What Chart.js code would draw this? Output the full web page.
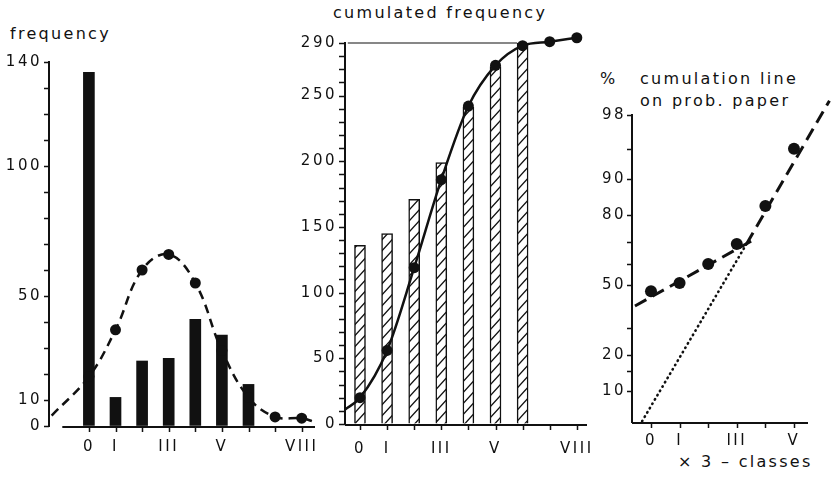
<!DOCTYPE html>
<html>
<head>
<meta charset="utf-8">
<script src="https://cdn.jsdelivr.net/npm/chart.js@4.4.1/dist/chart.umd.min.js"></script>
<style>
  body { margin: 0; background: #fff; width: 831px; height: 485px; overflow: hidden; position: relative;
         font-family: "DejaVu Sans", sans-serif; color: #111; }
  canvas { position: absolute; top: 0; }
  .lbl { position: absolute; font-size: 16px; line-height: 16px; letter-spacing: 2.3px; white-space: nowrap; }
</style>
</head>
<body>
<div class="lbl" style="left:10px;top:26px">frequency</div>
<div class="lbl" style="left:333px;top:5px">cumulated frequency</div>
<div class="lbl" style="left:600px;top:71px">%</div>
<div class="lbl" style="left:640px;top:71px">cumulation line</div>
<div class="lbl" style="left:640px;top:93px">on prob. paper</div>
<div class="lbl" style="left:678px;top:454px">× 3 – classes</div>

<canvas id="freq" width="335" height="485" style="left:0"></canvas>
<canvas id="cum" width="320" height="485" style="left:290px"></canvas>
<canvas id="prob" width="241" height="485" style="left:590px"></canvas>

<script>
// classes on the x axis, only some get a label
const classLabels = ['0', 'I', 'II', 'III', 'IV', 'V', 'VI', 'VII', 'VIII'];
const shownClasses = [0, 1, 3, 5, 8];

// left panel: frequency bars + fitted curve
const freqX = [0, 1, 2, 3, 4, 5, 6];
const freqBars = [136, 11, 25, 26, 41, 35, 16];
const fitX = [-1.4, 0, 1, 2, 3, 4, 5, 6, 7, 8, 8.5];
const fitFreq = [4, 19, 37, 60, 66, 55, 29, 11, 3.5, 3, 1.5];
const fitDots = [0, 5.5, 5.5, 5.5, 5.5, 5.5, 5.5, 5.5, 5.5, 5.5, 0];
const freqTicks = [0, 10, 20, 30, 40, 50, 60, 70, 80, 90, 100, 110, 120, 130, 140];
const freqTickLabels = [0, 10, 50, 100, 140];

// middle panel: cumulated bars + cumulated fit
const cumX = [0, 1, 2, 3, 4, 5, 6];
const cumBars = [136, 145, 171, 199, 241, 272, 290];
const cumFitX = [-0.55, 0, 1, 2, 3, 4, 5, 6, 7, 8];
const cumFit = [11, 20, 56, 119, 186, 242, 273, 288, 291, 294];
const cumFitDots = [0, 5.5, 5.5, 5.5, 5.5, 5.5, 5.5, 5.5, 5.5, 5.5];
const totalLineX = [-0.45, 5.8];
const totalLine = [290, 290];
const cumTicks = [0, 10, 20, 30, 40, 50, 60, 70, 80, 90, 100, 110, 120, 130, 140, 150,
  160, 170, 180, 190, 200, 210, 220, 230, 240, 250, 260, 270, 280, 290];
const cumTickLabels = [0, 50, 100, 150, 200, 250, 290];

// right panel: percent on probability paper
const probX = [0, 1, 2, 3, 4, 5];
const probPct = [47, 51, 60, 69, 83, 95];
const lowLineX = [-0.56, 3.62];
const lowLinePct = [40, 71];
const highLineX = [3.34, 6.24];
const highLinePct = [69, 98.7];
const dotLineX = [-0.31, 3.34];
const dotLinePct = [5, 69];
const probTicks = [10, 15, 20, 30, 50, 60, 70, 80, 90, 95, 98];
const probTickLabels = [10, 20, 50, 80, 90, 98];
const probMin = 4.9;
const probMax = 98;

const ink = '#111';
const tickFont = { family: 'DejaVu Sans', size: 15 };

// normal quantile (Acklam), used for the probability-paper axis
function probit(p) {
  const a = [-39.69683028665376, 220.9460984245205, -275.9285104469687, 138.3577518672690, -30.66479806614716, 2.506628277459239];
  const b = [-54.47609879822406, 161.5858368580409, -155.6989798598866, 66.80131188771972, -13.28068155288572];
  const c = [-0.007784894002430293, -0.3223964580411365, -2.400758277161838, -2.549732539343734, 4.374664141464968, 2.938163982698783];
  const d = [0.007784695709041462, 0.3224671290700398, 2.445134137142996, 3.754408661907416];
  const pl = 0.02425;
  let q, r;
  if (p < pl) {
    q = Math.sqrt(-2 * Math.log(p));
    return (((((c[0]*q+c[1])*q+c[2])*q+c[3])*q+c[4])*q+c[5]) / ((((d[0]*q+d[1])*q+d[2])*q+d[3])*q+1);
  }
  if (p > 1 - pl) {
    q = Math.sqrt(-2 * Math.log(1 - p));
    return -(((((c[0]*q+c[1])*q+c[2])*q+c[3])*q+c[4])*q+c[5]) / ((((d[0]*q+d[1])*q+d[2])*q+d[3])*q+1);
  }
  q = p - 0.5; r = q * q;
  return (((((a[0]*r+a[1])*r+a[2])*r+a[3])*r+a[4])*r+a[5])*q / (((((b[0]*r+b[1])*r+b[2])*r+b[3])*r+b[4])*r+1);
}

function pts(xs, ys) {
  return xs.map((x, i) => ({ x: x, y: ys[i] }));
}
function probPts(xs, pcts) {
  return xs.map((x, i) => ({ x: x, y: probit(pcts[i] / 100) }));
}

// hatch for the cumulated bars
function hatch() {
  const w = 10, h = 11;
  const c = document.createElement('canvas');
  c.width = w; c.height = h;
  const g = c.getContext('2d');
  g.fillStyle = '#fff';
  g.fillRect(0, 0, w, h);
  g.strokeStyle = ink;
  g.lineWidth = 1.3;
  g.beginPath();
  g.moveTo(0, h); g.lineTo(w, 0);
  g.moveTo(-2, 2.2); g.lineTo(2, -2.2);
  g.moveTo(w - 2, h + 2.2); g.lineTo(w + 2, h - 2.2);
  g.stroke();
  return g.createPattern(c, 'repeat');
}

// wide lettering like the original
const spaced = {
  id: 'spaced',
  beforeLayout(c) { c.ctx.letterSpacing = '2.5px'; },
  beforeDraw(c) { c.ctx.letterSpacing = '2.5px'; }
};

// axis lines + tick marks, from the scales
const axisInk = {
  id: 'axisInk',
  beforeDatasetsDraw(c, args, opts) {
    const ctx = c.ctx, x = c.scales.x, y = c.scales.y;
    const xFrom = opts.xFrom !== undefined ? x.getPixelForValue(opts.xFrom) : x.left;
    ctx.save();
    ctx.setLineDash([]);
    ctx.strokeStyle = ink;
    ctx.lineWidth = 2;
    ctx.beginPath();
    ctx.moveTo(y.right, y.top - 1);
    ctx.lineTo(y.right, y.bottom + 1);
    ctx.moveTo(xFrom, x.top + 1);
    ctx.lineTo(x.right, x.top + 1);
    ctx.stroke();
    ctx.lineWidth = 1.5;
    ctx.beginPath();
    y.ticks.forEach(t => {
      const p = Math.round(y.getPixelForValue(t.value)) + 0.5;
      ctx.moveTo(y.right - opts.yTick, p);
      ctx.lineTo(y.right, p);
    });
    x.ticks.forEach(t => {
      const p = Math.round(x.getPixelForValue(t.value)) + 0.5;
      ctx.moveTo(p, x.top);
      ctx.lineTo(p, x.top + opts.xTick);
    });
    ctx.stroke();
    ctx.restore();
  }
};

function xAxis(min, max, tickVals, shown, height, pad) {
  return {
    type: 'linear', min: min, max: max, offset: false,
    afterBuildTicks: s => { s.ticks = tickVals.map(v => ({ value: v })); },
    afterFit: s => { s.height = height; },
    ticks: {
      autoSkip: false, maxRotation: 0, minRotation: 0, padding: pad, color: ink, font: tickFont,
      callback: v => shown.includes(v) ? classLabels[v] : ''
    },
    grid: { offset: false, drawOnChartArea: false, tickLength: 6, color: 'rgba(0,0,0,0)' },
    border: { display: false }
  };
}

function yAxis(min, max, tickVals, labelOf, width, tickLen, pad) {
  return {
    type: 'linear', min: min, max: max,
    afterBuildTicks: s => { s.ticks = tickVals.map(v => ({ value: v })); },
    afterFit: s => { s.width = width; },
    ticks: { autoSkip: false, padding: pad, color: ink, font: tickFont, callback: labelOf },
    grid: { drawOnChartArea: false, tickLength: tickLen, color: 'rgba(0,0,0,0)' },
    border: { display: false }
  };
}

// ---------- left: frequency ----------
new Chart(document.getElementById('freq'), {
  type: 'bar',
  data: {
    datasets: [
      {
        type: 'line', data: pts(fitX, fitFreq), order: 0,
        borderColor: ink, borderWidth: 2.5, borderDash: [9, 6], tension: 0.4,
        pointRadius: fitDots, pointBackgroundColor: ink, pointBorderWidth: 0, clip: false
      },
      {
        data: pts(freqX, freqBars), order: 1,
        backgroundColor: ink, barThickness: 11
      }
    ]
  },
  options: {
    responsive: false, animation: false,
    layout: { padding: { top: 62, right: 20, left: 0, bottom: 0 } },
    plugins: {
      legend: { display: false }, tooltip: { enabled: false },
      axisInk: { xFrom: -1, yTick: 5, xTick: 6 }
    },
    scales: {
      x: xAxis(-1.5, 8.5, [0, 1, 2, 3, 4, 5, 6, 7, 8], shownClasses, 59, 6),
      y: yAxis(0, 140, freqTicks, v => freqTickLabels.includes(v) ? String(v) : '', 49, 5, 2)
    }
  },
  plugins: [spaced, axisInk]
});

// ---------- middle: cumulated frequency ----------
new Chart(document.getElementById('cum'), {
  type: 'bar',
  data: {
    datasets: [
      {
        type: 'line', data: pts(cumFitX, cumFit), order: 0,
        borderColor: ink, borderWidth: 2.5, cubicInterpolationMode: 'monotone',
        pointRadius: cumFitDots, pointBackgroundColor: ink, pointBorderWidth: 0, clip: false
      },
      {
        type: 'line', data: pts(totalLineX, totalLine), order: 0,
        borderColor: ink, borderWidth: 1.2, pointRadius: 0, clip: false
      },
      {
        data: pts(cumX, cumBars), order: 1,
        backgroundColor: hatch(), borderColor: ink, borderWidth: 1.5, barThickness: 11
      }
    ]
  },
  options: {
    responsive: false, animation: false,
    layout: { padding: { top: 43, right: 23, left: 0, bottom: 0 } },
    plugins: {
      legend: { display: false }, tooltip: { enabled: false },
      axisInk: { yTick: 6, xTick: 6 }
    },
    scales: {
      x: xAxis(-0.553, 8.376, [0, 1, 2, 3, 4, 5, 6, 7, 8], shownClasses, 61, 10),
      y: yAxis(0, 290, cumTicks, v => cumTickLabels.includes(v) ? String(v) : '', 55, 6, 2)
    }
  },
  plugins: [spaced, axisInk]
});

// ---------- right: probability paper ----------
new Chart(document.getElementById('prob'), {
  type: 'scatter',
  data: {
    datasets: [
      {
        data: probPts(probX, probPct),
        pointRadius: 6, pointBackgroundColor: ink, pointBorderWidth: 0, showLine: false
      },
      {
        data: probPts(lowLineX, lowLinePct), showLine: true,
        borderColor: ink, borderWidth: 3, borderDash: [13, 7], pointRadius: 0, clip: false
      },
      {
        data: probPts(highLineX, highLinePct), showLine: true,
        borderColor: ink, borderWidth: 3, borderDash: [13, 7], pointRadius: 0, clip: false
      },
      {
        data: probPts(dotLineX, dotLinePct), showLine: true,
        borderColor: ink, borderWidth: 2.6, borderDash: [0.5, 4.5], borderCapStyle: 'round',
        pointRadius: 0, clip: false
      }
    ]
  },
  options: {
    responsive: false, animation: false,
    layout: { padding: { top: 115, right: 23, left: 0, bottom: 0 } },
    plugins: {
      legend: { display: false }, tooltip: { enabled: false },
      axisInk: { yTick: 5, xTick: 6 }
    },
    scales: {
      x: xAxis(-0.664, 5.49, [0, 1, 2, 3, 4, 5], [0, 1, 3, 5], 63, 4),
      y: yAxis(probit(probMin / 100), probit(probMax / 100), probTicks.map(p => probit(p / 100)),
        (v, i) => probTickLabels.includes(probTicks[i]) ? String(probTicks[i]) : '', 42, 5, 1)
    }
  },
  plugins: [spaced, axisInk]
});
</script>
</body>
</html>
